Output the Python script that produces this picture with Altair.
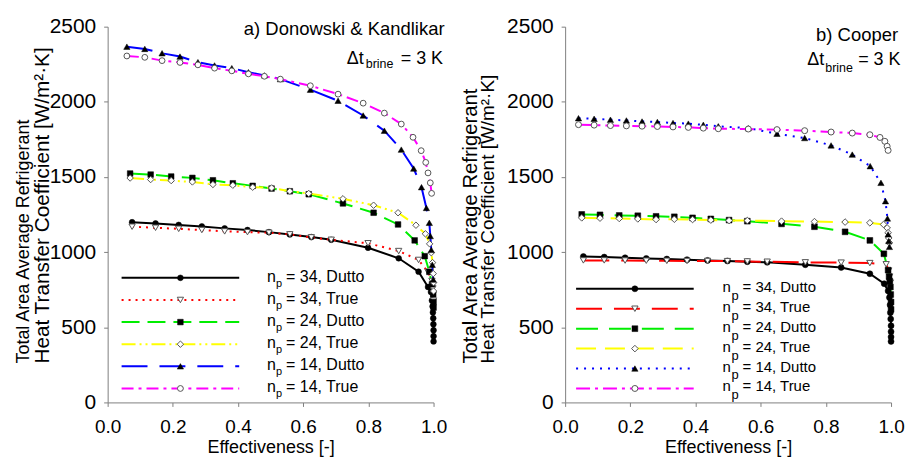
import altair as alt
import pandas as pd

FONT = "Liberation Sans"

# ---------------- Panel a) Donowski & Kandlikar ----------------
a_d34_x = [0.075, 0.147, 0.218, 0.289, 0.359, 0.429, 0.495, 0.559, 0.625, 0.686, 0.799, 0.893, 0.954, 0.983, 0.992,
           0.995, 0.997, 0.998, 0.999, 0.9995, 1.0, 1.0, 1.0]
a_d34_y = [1199, 1191, 1181, 1171, 1158, 1147, 1133, 1118, 1100, 1082, 1029, 959, 870, 768, 735,
           678, 639, 599, 560, 520, 480, 441, 406]
a_t34_x = [0.075, 0.147, 0.218, 0.289, 0.359, 0.429, 0.495, 0.559, 0.625, 0.686, 0.799, 0.893, 0.954, 0.983, 0.995,
           0.998, 0.999, 1.0]
a_t34_y = [1169, 1162, 1155, 1147, 1138, 1133, 1129, 1118, 1098, 1082, 1059, 1007, 948, 868, 808, 758, 718, 678]
a_d24_x = [0.069, 0.132, 0.195, 0.26, 0.323, 0.384, 0.445, 0.503, 0.559, 0.617, 0.722, 0.816, 0.891, 0.942, 0.973,
           0.987, 0.995, 0.999, 1.0, 1.0]
a_d24_y = [1523, 1516, 1503, 1494, 1478, 1458, 1441, 1423, 1405, 1385, 1324, 1262, 1184, 1078, 973, 869, 786, 720, 668, 631]
a_t24_x = [0.069, 0.132, 0.195, 0.26, 0.323, 0.384, 0.445, 0.503, 0.559, 0.617, 0.722, 0.816, 0.891, 0.946, 0.975,
           0.988, 0.993, 0.997, 0.999, 1.0, 1.0]
a_t24_y = [1493, 1483, 1476, 1467, 1450, 1445, 1432, 1427, 1405, 1390, 1355, 1312, 1262, 1179, 1122, 1055, 996, 930,
           857, 797, 741]
a_d14_x = [0.059, 0.114, 0.167, 0.222, 0.277, 0.328, 0.381, 0.432, 0.481, 0.530, 0.622, 0.707, 0.784, 0.849, 0.901,
           0.939, 0.963, 0.978, 0.987, 0.990, 0.993, 0.996, 0.999]
a_d14_y = [2367, 2352, 2323, 2301, 2264, 2242, 2224, 2197, 2176, 2151, 2081, 2007, 1909, 1808, 1682, 1556, 1432, 1294,
           1195, 1107, 1015, 916, 817]
a_t14_x = [0.059, 0.114, 0.167, 0.222, 0.277, 0.328, 0.381, 0.432, 0.481, 0.530, 0.622, 0.707, 0.784, 0.849, 0.901,
           0.937, 0.962, 0.976, 0.983, 0.990, 0.994]
a_t14_y = [2305, 2296, 2274, 2262, 2246, 2224, 2206, 2186, 2170, 2151, 2107, 2051, 1991, 1925, 1852, 1764, 1675, 1597,
           1527, 1461, 1391]

# ---------------- Panel b) Cooper ----------------
b_d34_x = [0.056, 0.12, 0.184, 0.249, 0.312, 0.374, 0.437, 0.498, 0.559, 0.62, 0.737, 0.847, 0.935, 0.979, 0.991,
           0.995, 0.997, 0.998, 0.999, 1.0, 1.0, 1.0, 1.0]
b_d34_y = [971, 967, 962, 958, 954, 950, 945, 941, 936, 932, 916, 898, 856, 790, 742, 698, 649, 597, 555, 510, 471, 436, 406]
b_t34_x = [0.056, 0.12, 0.184, 0.249, 0.312, 0.374, 0.437, 0.498, 0.559, 0.62, 0.737, 0.847, 0.935, 0.985, 0.993,
           0.996, 0.998]
b_t34_y = [945, 945, 944, 943, 942, 941, 941, 940, 938, 936, 932, 930, 927, 919, 877, 837, 797]
b_d24_x = [0.051, 0.107, 0.166, 0.223, 0.279, 0.335, 0.391, 0.447, 0.503, 0.559, 0.664, 0.765, 0.859, 0.935, 0.978,
           0.991, 0.994, 0.996, 0.998, 0.999, 1.0, 1.0]
b_d24_y = [1251, 1248, 1244, 1242, 1238, 1235, 1228, 1221, 1213, 1206, 1188, 1169, 1135, 1078, 989, 880, 837, 807, 768,
           718, 668, 619]
b_t24_x = [0.051, 0.107, 0.166, 0.223, 0.279, 0.335, 0.391, 0.447, 0.503, 0.559, 0.664, 0.765, 0.859, 0.935, 0.977,
           0.988, 0.991, 0.993, 0.995]
b_t24_y = [1228, 1226, 1224, 1221, 1217, 1219, 1217, 1213, 1210, 1210, 1206, 1203, 1200, 1195, 1184, 1161, 1129, 1094, 1062]
b_d14_x = [0.041, 0.089, 0.139, 0.188, 0.236, 0.283, 0.331, 0.378, 0.424, 0.47, 0.562, 0.650, 0.735, 0.816, 0.881,
           0.936, 0.969, 0.983, 0.989, 0.991, 0.993, 0.995]
b_d14_y = [1891, 1887, 1881, 1876, 1869, 1866, 1859, 1855, 1847, 1837, 1825, 1788, 1759, 1710, 1649, 1572, 1461, 1339,
           1224, 1118, 1074, 1035]
b_t14_x = [0.041, 0.089, 0.139, 0.188, 0.236, 0.283, 0.331, 0.378, 0.424, 0.470, 0.562, 0.650, 0.735, 0.816, 0.881,
           0.935, 0.966, 0.981, 0.988, 0.991]
b_t14_y = [1848, 1845, 1842, 1840, 1838, 1836, 1833, 1830, 1825, 1821, 1819, 1815, 1808, 1799, 1792, 1781, 1763, 1737,
           1704, 1677]

legend_labels = ["= 34, Dutto", "= 34, True", "= 24, Dutto", "= 24, True", "= 14, Dutto", "= 14, True"]
x_ticks = [0.0, 0.2, 0.4, 0.6, 0.8, 1.0]
y_ticks = [0, 500, 1000, 1500, 2000, 2500]
y_title_1 = "Total Area Average Refrigerant"
y_title_2 = "Heat Transfer Coefficient [W/m\u00b2\u00b7K]"

BLACK, RED, GREEN, YELLOW, BLUE, MAGENTA = "#000000", "#ff0000", "#00ee00", "#ffff00", "#0000ff", "#ff00ff"


def style(color, dash, shape, filled, size):
    return dict(color=color, dash=dash, shape=shape, filled=filled, size=size)


a_styles = [
    style(BLACK, None, "circle", True, 34),
    style(RED, [2, 5], "triangle-down", False, 40),
    style(GREEN, [18, 8], "square", True, 32),
    style(YELLOW, [14, 4, 2, 4, 2, 4], "diamond", False, 42),
    style(BLUE, [26, 12], "triangle-up", True, 40),
    style(MAGENTA, [12, 5, 3, 5], "circle", False, 34),
]
b_styles = [
    style(BLACK, None, "circle", True, 36),
    style(RED, [26, 12], "triangle-down", False, 40),
    style(GREEN, [22, 11], "square", True, 34),
    style(YELLOW, [20, 9], "diamond", False, 44),
    style(BLUE, [2, 6], "triangle-up", True, 40),
    style(MAGENTA, [14, 5, 3, 5], "circle", False, 36),
]

ONE = alt.Data(values=[{"k": 1}])


def line_kw(st):
    kw = dict(color=st["color"], strokeWidth=2)
    if st["dash"]:
        kw["strokeDash"] = st["dash"]
    return kw


def marker_kw(st):
    if st["filled"]:
        return dict(shape=st["shape"], filled=True, fill="black", stroke="black", strokeWidth=0.5,
                    size=st["size"], opacity=1)
    return dict(shape=st["shape"], filled=True, fill="white", stroke="#555555", strokeWidth=1,
                size=st["size"], opacity=1)


def txt(text, x, y, size, align="left", baseline="alphabetic", angle=0):
    kw = dict(text=text, align=align, baseline=baseline, font=FONT, fontSize=size, color="black")
    if angle:
        kw["angle"] = angle
    return alt.Chart(ONE).mark_text(**kw).encode(x=alt.value(x), y=alt.value(y))


def panel(series, styles, geo):
    X = alt.X("x:Q", scale=alt.Scale(domain=[0, 1], nice=False),
              axis=alt.Axis(values=x_ticks, format=".1f", title="Effectiveness [-]"))
    Y = alt.Y("y:Q", scale=alt.Scale(domain=[0, 2500], nice=False),
              axis=alt.Axis(values=y_ticks, format="d", title=None))
    layers = []
    for (xs, ys), st in zip(series, styles):
        df = pd.DataFrame({"x": xs, "y": ys, "i": list(range(len(xs)))})
        layers.append(alt.Chart(df).mark_line(**line_kw(st)).encode(x=X, y=Y, order="i:Q"))
    for (xs, ys), st in zip(series, styles):
        df = pd.DataFrame({"x": xs, "y": ys})
        layers.append(alt.Chart(df).mark_point(**marker_kw(st)).encode(x=X, y=Y))
    # legend
    for k, st in enumerate(styles):
        ry = geo["row0"] + k * geo["row_step"]
        layers.append(alt.Chart(ONE).mark_rule(**line_kw(st)).encode(
            x=alt.value(geo["lx1"]), x2=alt.value(geo["lx2"]), y=alt.value(ry)))
        layers.append(alt.Chart(ONE).mark_point(**marker_kw(st)).encode(
            x=alt.value(geo["lmx"]), y=alt.value(ry)))
        layers.append(txt("n", geo["tn"], ry + geo["n_dy"], geo["leg_fs"]))
        layers.append(txt("p", geo["tp"], ry + geo["p_dy"], geo["p_fs"]))
        layers.append(txt(legend_labels[k], geo["tr"], ry + geo["n_dy"], geo["leg_fs"]))
    # annotations
    layers.append(txt(geo["title"], geo["title_right"], geo["title_base"], geo["title_fs"], align="right"))
    layers.append(txt("\u0394t", geo["dt_x"], geo["dt_base"], geo["dt_fs"]))
    layers.append(txt("brine", geo["br_x"], geo["br_base"], geo["br_fs"]))
    layers.append(txt("= 3 K", geo["eq_x"], geo["dt_base"], geo["dt_fs"]))
    # y-axis title (two lines, starting at the same height)
    layers.append(txt(y_title_1, geo["yt1_x"], 338, geo["yt1_fs"], baseline="top", angle=270))
    layers.append(txt(y_title_2, geo["yt2_x"], 338, geo["yt2_fs"], baseline="top", angle=270))
    return alt.layer(*layers).properties(width=327, height=377)


a_geo = dict(yt1_x=-93, yt2_x=-75, yt1_fs=18, yt2_fs=20.8,
             row0=252, row_step=22.2, lx1=14, lx2=132, lmx=73,
             tn=160, tp=169, tr=179, n_dy=4, p_dy=9, leg_fs=16, p_fs=11,
             title="a) Donowski & Kandlikar", title_right=338, title_base=8, title_fs=18.5,
             dt_x=240, br_x=259, eq_x=294, dt_base=37, br_base=41, dt_fs=18, br_fs=12.5)
b_geo = dict(yt1_x=-104, yt2_x=-86, yt1_fs=20.3, yt2_fs=19,
             row0=263, row_step=20, lx1=11, lx2=129, lmx=70,
             tn=158, tp=167, tr=178, n_dy=3, p_dy=11, leg_fs=15, p_fs=13,
             title="b) Cooper", title_right=334, title_base=14, title_fs=18.5,
             dt_x=243, br_x=261, eq_x=294, dt_base=38, br_base=45, dt_fs=18, br_fs=12.5)

left = panel([(a_d34_x, a_d34_y), (a_t34_x, a_t34_y), (a_d24_x, a_d24_y), (a_t24_x, a_t24_y),
              (a_d14_x, a_d14_y), (a_t14_x, a_t14_y)], a_styles, a_geo)
right = panel([(b_d34_x, b_d34_y), (b_t34_x, b_t34_y), (b_d24_x, b_d24_y), (b_t24_x, b_t24_y),
               (b_d14_x, b_d14_y), (b_t14_x, b_t14_y)], b_styles, b_geo)

chart = alt.hconcat(left, right, spacing=13).properties(
    padding={"left": 15, "top": 15, "right": 0, "bottom": 0}, background="white"
).configure_view(stroke=None).configure_axis(
    grid=False, domainColor="#808080", tickColor="#808080", tickSize=4, labelFlush=False,
    labelFont=FONT, labelColor="black", titleFont=FONT, titleColor="black", titleFontWeight="normal",
).configure_axisX(
    labelFontSize=19, labelPadding=11, titleFontSize=18, titlePadding=2,
).configure_axisY(
    labelFontSize=21, labelPadding=8,
)

chart.save("out.html", embed_options={"renderer": "svg", "actions": False})
